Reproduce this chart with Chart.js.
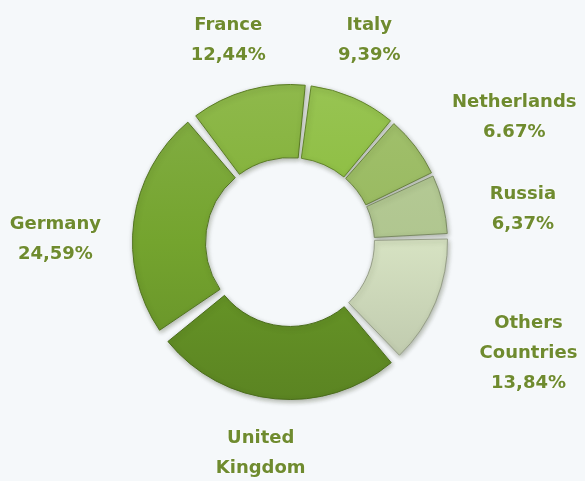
<!DOCTYPE html>
<html>
<head>
<meta charset="utf-8">
<script src="https://cdn.jsdelivr.net/npm/chart.js@4"></script>
<style>
  html,body{margin:0;padding:0;background:#f5f8fa;}
  #wrap{width:585px;height:481px;position:relative;}
</style>
</head>
<body>
<div id="wrap"><canvas id="shareDonut"></canvas></div>
<script>
// slices, clockwise from the France/Germany split
const countries   = ['France','Italy','Netherlands','Russia',['Others','Countries'],['United','Kingdom'],'Germany'];
const shares      = [12.44, 9.39, 6.67, 6.37, 13.84, 26.70, 24.59];
const shareLabels = ['12,44%','9,39%','6.67%','6,37%','13,84%','26,70%','24,59%'];
const sliceColors = ['#80b034','#8abc3c','#97b95d','#b0c68f','#d6e2c2','#6a9a28','#74a42e'];

function shade(hex,amt){
  const n=parseInt(hex.slice(1),16);
  let r=n>>16,g=(n>>8)&255,b=n&255;
  const t=amt<0?0:255,p=Math.abs(amt);
  r=Math.round(r+(t-r)*p);g=Math.round(g+(t-g)*p);b=Math.round(b+(t-b)*p);
  return 'rgb('+r+','+g+','+b+')';
}

const shadowPlugin={
  id:'sliceShadow',
  beforeDatasetsDraw(chart){
    const c=chart.ctx;c.save();
    c.shadowColor='rgba(40,50,20,0.35)';c.shadowBlur=5;c.shadowOffsetX=1;c.shadowOffsetY=2;
  },
  afterDatasetsDraw(chart){chart.ctx.restore();}
};

const labelPlugin={
  id:'sliceLabels',
  afterDraw(chart,args,o){
    const c=chart.ctx,meta=chart.getDatasetMeta(0);
    c.save();
    c.font='bold '+o.size+'px "DejaVu Sans"';
    c.textAlign='center';c.textBaseline='middle';
    c.fillStyle=o.color;
    c.shadowColor='rgba(255,255,255,0.95)';c.shadowBlur=3;
    meta.data.forEach((arc,i)=>{
      const p=arc.getProps(['x','y','startAngle','endAngle','outerRadius'],true);
      const mid=(p.startAngle+p.endAngle)/2,dx=Math.cos(mid),dy=Math.sin(mid);
      const lines=[].concat(countries[i],shareLabels[i]);
      const w=Math.max(...lines.map(l=>c.measureText(l).width));
      const h=(lines.length-1)*o.lineHeight+o.size;
      const d=p.outerRadius+o.pad,n=o.nudge[i]||[0,0];
      const cx=p.x+dx*(d+w/2)+n[0];
      const cy=p.y+dy*(d+h/2)+n[1];
      lines.forEach((l,k)=>c.fillText(l,cx,cy-h/2+o.size/2+k*o.lineHeight));
    });
    c.restore();
  }
};

new Chart(document.getElementById('shareDonut'),{
  type:'doughnut',
  data:{
    labels:countries,
    datasets:[{
      data:shares,
      backgroundColor:ctx=>{
        const a=ctx.chart.chartArea;
        if(!a) return sliceColors[ctx.dataIndex];
        const base=sliceColors[ctx.dataIndex];
        const g=ctx.chart.ctx.createLinearGradient(0,a.top,0,a.bottom);
        g.addColorStop(0,shade(base,0.12));
        g.addColorStop(0.5,base);
        g.addColorStop(1,shade(base,-0.14));
        return g;
      },
      borderColor:sliceColors.map(c=>shade(c,-0.3)),
      borderWidth:1,
      spacing:13
    }]
  },
  plugins:[shadowPlugin,labelPlugin],
  options:{
    responsive:true,maintainAspectRatio:false,animation:false,
    rotation:-38,radius:151,cutout:79,
    layout:{padding:{left:130,right:135,top:82,bottom:79}},
    events:[],
    plugins:{
      legend:{display:false},tooltip:{enabled:false},
      sliceLabels:{size:18,lineHeight:30,pad:30,color:'#6f8b2f',
        nudge:[[-3,-4],[-6,-14],[31,0],[25,17],[26,27],[-8,7],[-10,25]]}
    }
  }
});
</script>
</body>
</html>
